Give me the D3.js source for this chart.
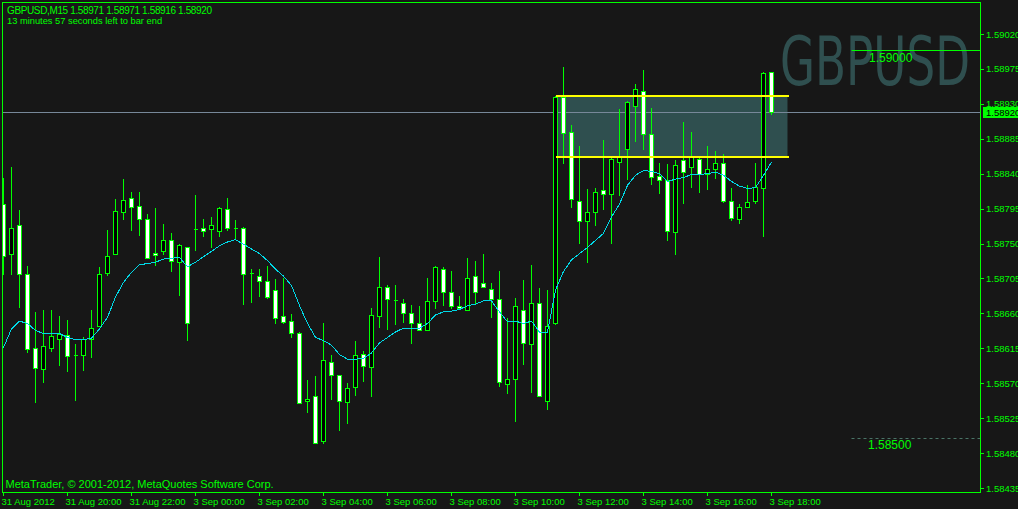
<!DOCTYPE html>
<html><head><meta charset="utf-8">
<script src="https://cdn.jsdelivr.net/npm/d3@7"></script>
<style>html,body{margin:0;padding:0;background:#171717;overflow:hidden}</style>
</head><body>
<svg id="c" width="1018" height="509"></svg>
<script>
// ---------------- data ----------------
const symbol = "GBPUSD,M15";
const lastOHLC = [1.58971, 1.58971, 1.58916, 1.58920];
const timerText = "13 minutes 57 seconds left to bar end";
const copyright = "MetaTrader, \u00A9 2001-2012, MetaQuotes Software Corp.";
const watermark = "GBPUSD";

const open = [
1.58801,1.58737,1.58774,1.58711,1.58616,1.58588,1.58616,1.58627,1.58632,1.58607,
1.58607,1.58627,1.58644,1.58712,1.58736,1.58790,1.58809,1.58799,1.58782,1.58738,
1.58740,1.58755,1.58726,1.58745,1.58769,1.58770,1.58769,1.58766,1.58795,1.58770,
1.58770,1.58712,1.58708,1.58702,1.58690,1.58656,1.58650,1.58635,1.58547,1.58554,
1.58495,1.58598,1.58580,1.58546,1.58565,1.58608,1.58591,1.58657,1.58694,1.58677,
1.58674,1.58661,1.58647,1.58638,1.58676,1.58717,1.58687,1.58669,1.58665,1.58708,
1.58699,1.58692,1.58678,1.58569,1.58575,1.58665,1.58621,1.58674,1.58547,1.58647,
1.58939,1.58894,1.58805,1.58779,1.58790,1.58819,1.58814,1.58855,1.58872,1.58927,
1.58947,1.58891,1.58837,1.58832,1.58765,1.58858,1.58848,1.58859,1.58839,1.58846,
1.58854,1.58805,1.58782,1.58797,1.58805,1.58822,1.58971];
const high = [
1.58834,1.58849,1.58793,1.58721,1.58662,1.58665,1.58665,1.58657,1.58651,1.58620,
1.58630,1.58665,1.58720,1.58767,1.58808,1.58833,1.58816,1.58816,1.58788,1.58796,
1.58775,1.58764,1.58750,1.58746,1.58812,1.58782,1.58784,1.58797,1.58809,1.58780,
1.58771,1.58717,1.58717,1.58721,1.58704,1.58705,1.58659,1.58636,1.58574,1.58579,
1.58648,1.58606,1.58581,1.58570,1.58625,1.58611,1.58667,1.58733,1.58696,1.58696,
1.58679,1.58671,1.58669,1.58705,1.58721,1.58720,1.58715,1.58682,1.58732,1.58727,
1.58736,1.58699,1.58715,1.58654,1.58680,1.58703,1.58722,1.58693,1.58690,1.58940,
1.58978,1.58903,1.58876,1.58820,1.58822,1.58884,1.58860,1.58923,1.58934,1.58955,
1.58974,1.58925,1.58854,1.58852,1.58857,1.58906,1.58894,1.58860,1.58876,1.58869,
1.58866,1.58821,1.58801,1.58826,1.58854,1.58971,1.58971];
const low = [
1.58709,1.58709,1.58667,1.58609,1.58544,1.58570,1.58610,1.58592,1.58584,1.58547,
1.58586,1.58602,1.58642,1.58708,1.58735,1.58780,1.58766,1.58760,1.58730,1.58721,
1.58735,1.58713,1.58683,1.58624,1.58740,1.58758,1.58744,1.58758,1.58766,1.58754,
1.58671,1.58673,1.58681,1.58678,1.58646,1.58646,1.58628,1.58543,1.58532,1.58492,
1.58492,1.58548,1.58508,1.58518,1.58553,1.58571,1.58552,1.58641,1.58638,1.58645,
1.58648,1.58620,1.58637,1.58637,1.58666,1.58669,1.58666,1.58664,1.58663,1.58671,
1.58693,1.58654,1.58565,1.58556,1.58520,1.58594,1.58558,1.58553,1.58536,1.58645,
1.58852,1.58796,1.58750,1.58725,1.58772,1.58793,1.58750,1.58811,1.58832,1.58881,
1.58870,1.58825,1.58814,1.58753,1.58735,1.58801,1.58821,1.58815,1.58819,1.58833,
1.58802,1.58779,1.58775,1.58796,1.58801,1.58759,1.58916];
const close = [
1.58734,1.58770,1.58711,1.58614,1.58590,1.58618,1.58631,1.58633,1.58605,1.58607,
1.58627,1.58641,1.58711,1.58734,1.58792,1.58806,1.58797,1.58781,1.58732,1.58735,
1.58755,1.58727,1.58748,1.58647,1.58769,1.58766,1.58774,1.58796,1.58770,1.58770,
1.58711,1.58712,1.58702,1.58681,1.58654,1.58649,1.58635,1.58545,1.58550,1.58493,
1.58600,1.58581,1.58547,1.58564,1.58607,1.58592,1.58658,1.58694,1.58678,1.58677,
1.58661,1.58647,1.58638,1.58676,1.58720,1.58687,1.58669,1.58667,1.58706,1.58687,
1.58694,1.58678,1.58572,1.58576,1.58669,1.58622,1.58674,1.58554,1.58644,1.58939,
1.58893,1.58808,1.58779,1.58790,1.58817,1.58814,1.58859,1.58863,1.58933,1.58949,
1.58891,1.58836,1.58832,1.58766,1.58851,1.58842,1.58862,1.58839,1.58846,1.58854,
1.58805,1.58783,1.58797,1.58804,1.58823,1.58970,1.58920];
const ma = [
1.58616,1.58640,1.58650,1.58647,1.58638,1.58634,1.58634,1.58634,1.58629,1.58626,
1.58626,1.58628,1.58640,1.58655,1.58681,1.58700,1.58713,1.58723,1.58724,1.58726,
1.58730,1.58731,1.58732,1.58720,1.58726,1.58733,1.58740,1.58747,1.58752,1.58755,
1.58749,1.58743,1.58737,1.58728,1.58717,1.58708,1.58696,1.58670,1.58647,1.58629,
1.58625,1.58619,1.58607,1.58601,1.58601,1.58602,1.58609,1.58622,1.58629,1.58636,
1.58641,1.58641,1.58641,1.58647,1.58658,1.58662,1.58663,1.58665,1.58670,1.58672,
1.58676,1.58676,1.58662,1.58649,1.58650,1.58647,1.58650,1.58636,1.58636,1.58690,
1.58714,1.58729,1.58737,1.58745,1.58754,1.58763,1.58784,1.58801,1.58825,1.58838,
1.58844,1.58843,1.58840,1.58830,1.58833,1.58835,1.58839,1.58839,1.58840,1.58842,
1.58838,1.58830,1.58824,1.58821,1.58822,1.58838,1.58855];

const tickLabels = ["31 Aug 2012","31 Aug 20:00","31 Aug 22:00","3 Sep 00:00","3 Sep 02:00",
  "3 Sep 04:00","3 Sep 06:00","3 Sep 08:00","3 Sep 10:00","3 Sep 12:00","3 Sep 14:00",
  "3 Sep 16:00","3 Sep 18:00"];
const tickBars = [0,8,16,24,32,40,48,56,64,72,80,88,96];
const priceTicks = [1.59020,1.58975,1.58930,1.58885,1.58840,1.58795,1.58750,
  1.58705,1.58660,1.58615,1.58570,1.58525,1.58480,1.58435];

const zoneTop = 1.58940, zoneBottom = 1.58862, zoneFromBar = 69, zoneToBar = 98;
const levelLines = [1.59000, 1.58500];
const levelFromBar = 106;
const bid = lastOHLC[3];

// ---------------- drawing ----------------
const GREEN = "#00ff00", BG = "#171717";
const FONT = "'Liberation Sans', Arial, sans-serif";
const svg = d3.select("#c");
const fr = {l: 2.5, t: 2.5, r: 980.5, b: 492.5};

const x = d3.scaleLinear().domain([0, 96]).range([3.5, 771.5]);
const y = d3.scaleLinear().domain([1.58435, 1.59020]).range([488, 34]);

svg.append("rect").attr("width", 1018).attr("height", 509).attr("fill", BG);

svg.append("defs").append("clipPath").attr("id", "plot")
  .append("rect").attr("x", fr.l).attr("y", fr.t).attr("width", fr.r - fr.l).attr("height", fr.b - fr.t);

const plot = svg.append("g").attr("clip-path", "url(#plot)");

// watermark
plot.append("text").attr("x", 780).attr("y", 85)
  .attr("font-family", "'Liberation Sans Narrow', 'DejaVu Sans', sans-serif")
  .attr("font-size", 68).attr("textLength", 190).attr("lengthAdjust", "spacingAndGlyphs")
  .attr("fill", "#2f4f4f").text(watermark);

// zone rectangle
plot.append("rect")
  .attr("x", x(zoneFromBar)).attr("y", y(zoneTop))
  .attr("width", x(zoneToBar) - x(zoneFromBar)).attr("height", y(zoneBottom) - y(zoneTop))
  .attr("fill", "#2f4f4f");

// bid line
plot.append("line").attr("x1", fr.l).attr("x2", fr.r)
  .attr("y1", Math.round(y(bid)) + 0.5).attr("y2", Math.round(y(bid)) + 0.5)
  .attr("stroke", "#778899").attr("stroke-width", 1);

// level lines
plot.append("line").attr("x1", x(levelFromBar)).attr("x2", fr.r)
  .attr("y1", Math.round(y(levelLines[0])) + 0.5).attr("y2", Math.round(y(levelLines[0])) + 0.5)
  .attr("stroke", GREEN).attr("stroke-width", 1);
plot.append("line").attr("x1", x(levelFromBar)).attr("x2", fr.r)
  .attr("y1", Math.round(y(levelLines[1])) + 0.5).attr("y2", Math.round(y(levelLines[1])) + 0.5)
  .attr("stroke", "#4a7466").attr("stroke-width", 1).attr("stroke-dasharray", "3,3");
plot.append("text").attr("x", 869).attr("y", Math.round(y(levelLines[0])) + 12)
  .attr("font-family", FONT).attr("font-size", 12).attr("fill", GREEN).text(levelLines[0].toFixed(5));
plot.append("text").attr("x", 868).attr("y", Math.round(y(levelLines[1])) + 11)
  .attr("font-family", FONT).attr("font-size", 12).attr("fill", GREEN).text(levelLines[1].toFixed(5));

// candles
const idx = d3.range(open.length);
const cg = plot.append("g").attr("shape-rendering", "crispEdges");
cg.selectAll("line.wick").data(idx).join("line").attr("class", "wick")
  .attr("x1", i => x(i)).attr("x2", i => x(i))
  .attr("y1", i => y(high[i])).attr("y2", i => y(low[i]))
  .attr("stroke", GREEN).attr("stroke-width", 1);
cg.selectAll("path.body").data(idx).join("path").attr("class", "body")
  .attr("d", i => {
    const x0 = x(i) - 2, x1 = x(i) + 2;
    const y0 = Math.round(y(Math.max(open[i], close[i]))) + 0.5;
    const y1 = Math.round(y(Math.min(open[i], close[i]))) + 0.5;
    return `M${x0},${y0}H${x1}V${y1}H${x0}Z`;
  })
  .attr("fill", i => close[i] < open[i] ? "#ffffff" : "#000000")
  .attr("stroke", GREEN).attr("stroke-width", 1);

// zone lines (yellow)
plot.selectAll("line.zone").data([zoneTop, zoneBottom]).join("line").attr("class", "zone")
  .attr("x1", x(zoneFromBar)).attr("x2", x(zoneToBar) + 1)
  .attr("y1", d => Math.round(y(d))).attr("y2", d => Math.round(y(d)))
  .attr("stroke", "#ffff00").attr("stroke-width", 2).attr("shape-rendering", "crispEdges");

// moving average
plot.append("path").datum(idx)
  .attr("d", d3.line().x(i => x(i)).y(i => y(ma[i])))
  .attr("fill", "none").attr("stroke", "#00d8e6").attr("stroke-width", 1)
  .attr("shape-rendering", "crispEdges");

// frame
svg.append("rect").attr("x", fr.l).attr("y", fr.t).attr("width", fr.r - fr.l).attr("height", fr.b - fr.t)
  .attr("fill", "none").attr("stroke", GREEN).attr("stroke-width", 1).attr("shape-rendering", "crispEdges");

// y axis
const ya = svg.append("g");
ya.selectAll("line").data(priceTicks).join("line")
  .attr("x1", fr.r + 0.5).attr("x2", fr.r + 3)
  .attr("y1", d => Math.round(y(d)) + 0.5).attr("y2", d => Math.round(y(d)) + 0.5)
  .attr("stroke", GREEN).attr("shape-rendering", "crispEdges");
ya.selectAll("text").data(priceTicks).join("text")
  .attr("x", 986).attr("y", d => y(d) + 3.5)
  .attr("font-family", FONT).attr("font-size", 9.5).attr("fill", GREEN)
  .text(d => d.toFixed(5));

// current price marker
svg.append("rect").attr("x", 983).attr("y", Math.round(y(bid)) - 5).attr("width", 35).attr("height", 11)
  .attr("fill", GREEN);
svg.append("text").attr("x", 986).attr("y", Math.round(y(bid)) + 4)
  .attr("font-family", FONT).attr("font-size", 9.5).attr("fill", "#000").text(bid.toFixed(5));

// x axis
const xa = svg.append("g");
xa.selectAll("line").data(tickBars).join("line")
  .attr("x1", d => x(d)).attr("x2", d => x(d)).attr("y1", fr.b).attr("y2", fr.b + 3.5)
  .attr("stroke", GREEN).attr("shape-rendering", "crispEdges");
xa.selectAll("text").data(tickBars).join("text")
  .attr("x", d => x(d) - 2).attr("y", 505)
  .attr("font-family", FONT).attr("font-size", 9.5).attr("fill", GREEN)
  .text((d, k) => tickLabels[k]);

// header texts
svg.append("text").attr("x", 7).attr("y", 13.5)
  .attr("font-family", FONT).attr("font-size", 10).attr("fill", GREEN)
  .attr("textLength", 205).attr("lengthAdjust", "spacing")
  .text(symbol + "  " + lastOHLC.map(v => v.toFixed(5)).join(" "));
svg.append("text").attr("x", 7).attr("y", 23.5)
  .attr("font-family", FONT).attr("font-size", 9.3).attr("fill", GREEN).text(timerText);
svg.append("text").attr("x", 5.5).attr("y", 487.5)
  .attr("font-family", FONT).attr("font-size", 11).attr("fill", GREEN).text(copyright);
</script>
</body></html>
